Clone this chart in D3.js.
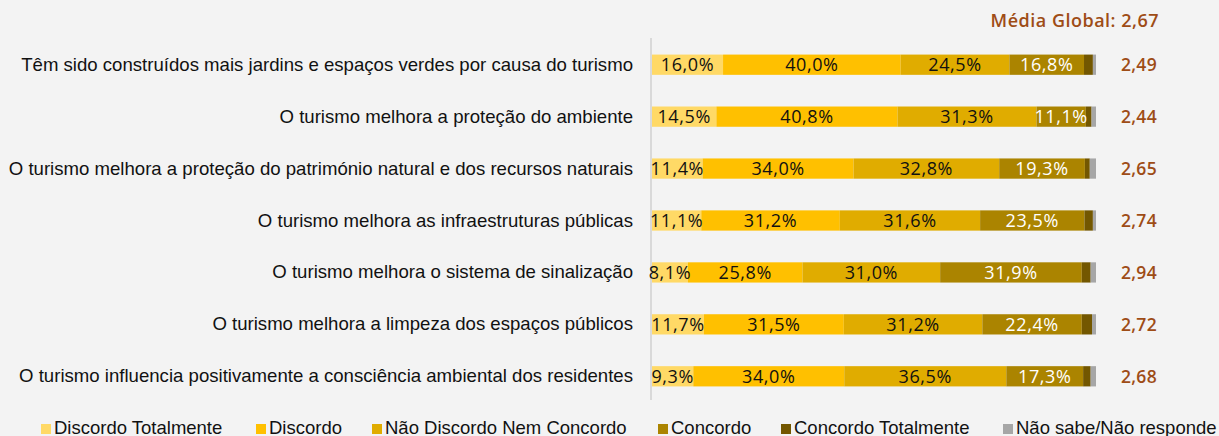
<!DOCTYPE html>
<html>
<head>
<meta charset="utf-8">
<script src="https://cdn.jsdelivr.net/npm/d3@7"></script>
<style>
  html, body { margin: 0; padding: 0; background: #f3f3f3; }
  svg { display: block; }
</style>
</head>
<body>
<div id="chart"></div>
<script>
// Categories (top to bottom)
const categories = [
    'Têm sido construídos mais jardins e espaços verdes por causa do turismo',
    'O turismo melhora a proteção do ambiente',
    'O turismo melhora a proteção do património natural e dos recursos naturais',
    'O turismo melhora as infraestruturas públicas',
    'O turismo melhora o sistema de sinalização',
    'O turismo melhora a limpeza dos espaços públicos',
    'O turismo influencia positivamente a consciência ambiental dos residentes'
];

// Answer series (percentages)
const seriesNames = ['Discordo Totalmente', 'Discordo', 'Não Discordo Nem Concordo', 'Concordo', 'Concordo Totalmente', 'Não sabe/Não responde'];
const discordoTotalmente = [16.0, 14.5, 11.4, 11.1, 8.1, 11.7, 9.3];
const discordo = [40.0, 40.8, 34.0, 31.2, 25.8, 31.5, 34.0];
const neutro = [24.5, 31.3, 32.8, 31.6, 31.0, 31.2, 36.5];
const concordo = [16.8, 11.1, 19.3, 23.5, 31.9, 22.4, 17.3];
const concordoTotalmente = [2.0, 1.3, 1.1, 1.9, 2.0, 2.3, 1.7];
const naoSabe = [0.7, 1.0, 1.4, 0.7, 1.2, 0.9, 1.2];

// Mean score per item
const medias = ['2,49', '2,44', '2,65', '2,74', '2,94', '2,72', '2,68'];
const mediaGlobal = '2,67';

const colors = ['#ffd966', '#ffc000', '#e0ac00', '#ab8400', '#735700', '#a6a6a6'];
const labelColors = ['#111', '#111', '#111', '#fff', null, null];

const width = 1219, height = 436;

const svg = d3.select('#chart')
    .append('svg')
    .attr('width', width)
    .attr('height', height);

// Build rows for the stack
const cols = [discordoTotalmente, discordo, neutro, concordo, concordoTotalmente, naoSabe];
const rows = categories.map((c, i) => {
    const r = { cat: c };
    seriesNames.forEach((k, j) => { r[k] = cols[j][i]; });
    return r;
});

const stacked = d3.stack().keys(seriesNames)(rows);

const x = d3.scaleLinear()
    .domain([0, 100])
    .range([652, 1096]);

const y = d3.scaleBand()
    .domain(categories)
    .range([39, 402])
    .paddingInner(0.61)
    .paddingOuter(0.3);

// Axis line
svg.append('line')
    .attr('x1', 651).attr('x2', 651)
    .attr('y1', 38).attr('y2', 400)
    .attr('stroke', '#d9d9d9')
    .attr('stroke-width', 2);

// Bars
const layers = svg.selectAll('g.layer')
    .data(stacked)
    .enter()
    .append('g')
    .attr('class', 'layer')
    .attr('fill', (d, i) => colors[i]);

layers.selectAll('rect')
    .data(d => d)
    .enter()
    .append('rect')
    .attr('x', d => x(d[0]))
    .attr('y', d => y(d.data.cat))
    .attr('width', d => x(d[1]) - x(d[0]))
    .attr('height', y.bandwidth());

// Segment labels (first four series only)
stacked.forEach((layer, i) => {
    if (!labelColors[i]) return;
    svg.append('g')
        .selectAll('text')
        .data(layer)
        .enter()
        .append('text')
        .attr('x', d => (x(d[0]) + x(d[1])) / 2)
        .attr('y', d => y(d.data.cat) + y.bandwidth() / 2 + 6.5)
        .attr('text-anchor', 'middle')
        .attr('font-family', '"Open Sans", sans-serif')
        .attr('font-size', 18)
        .attr('letter-spacing', 0.6)
        .attr('fill', labelColors[i])
        .text(d => d3.format('.1f')(d[1] - d[0]).replace('.', ',') + '%');
});

// Category labels
svg.append('g')
    .selectAll('text')
    .data(categories)
    .enter()
    .append('text')
    .attr('x', 633)
    .attr('y', d => y(d) + y.bandwidth() / 2 + 6)
    .attr('text-anchor', 'end')
    .attr('font-family', '"Liberation Sans", Arial, sans-serif')
    .attr('font-size', 18.6)
    .attr('fill', '#111')
    .text(d => d);

// Means
svg.append('g')
    .selectAll('text')
    .data(categories)
    .enter()
    .append('text')
    .attr('x', 1139)
    .attr('y', d => y(d) + y.bandwidth() / 2 + 6.5)
    .attr('text-anchor', 'middle')
    .attr('font-family', '"Open Sans", sans-serif')
    .attr('font-size', 17.5)
    .attr('font-weight', 600)
    .attr('letter-spacing', 0.3)
    .attr('fill', '#9e4c16')
    .text((d, i) => medias[i]);

svg.append('text')
    .attr('x', 1159)
    .attr('y', 27)
    .attr('text-anchor', 'end')
    .attr('font-family', '"Open Sans", sans-serif')
    .attr('font-size', 18)
    .attr('font-weight', 600)
    .attr('letter-spacing', 0.5)
    .attr('fill', '#9e4c16')
    .text('Média Global: ' + mediaGlobal);

// Legend
const legendX = [41, 256, 372, 658, 781, 1003];
const legend = svg.append('g')
    .selectAll('g')
    .data(seriesNames)
    .enter()
    .append('g')
    .attr('transform', (d, i) => `translate(${legendX[i]},0)`);

legend.append('rect')
    .attr('x', 0).attr('y', 424)
    .attr('width', 10).attr('height', 10)
    .attr('fill', (d, i) => colors[i]);

legend.append('text')
    .attr('x', 13)
    .attr('y', 434)
    .attr('font-family', '"Liberation Sans", Arial, sans-serif')
    .attr('font-size', 18.5)
    .attr('fill', '#111')
    .text(d => d);
</script>
</body>
</html>
